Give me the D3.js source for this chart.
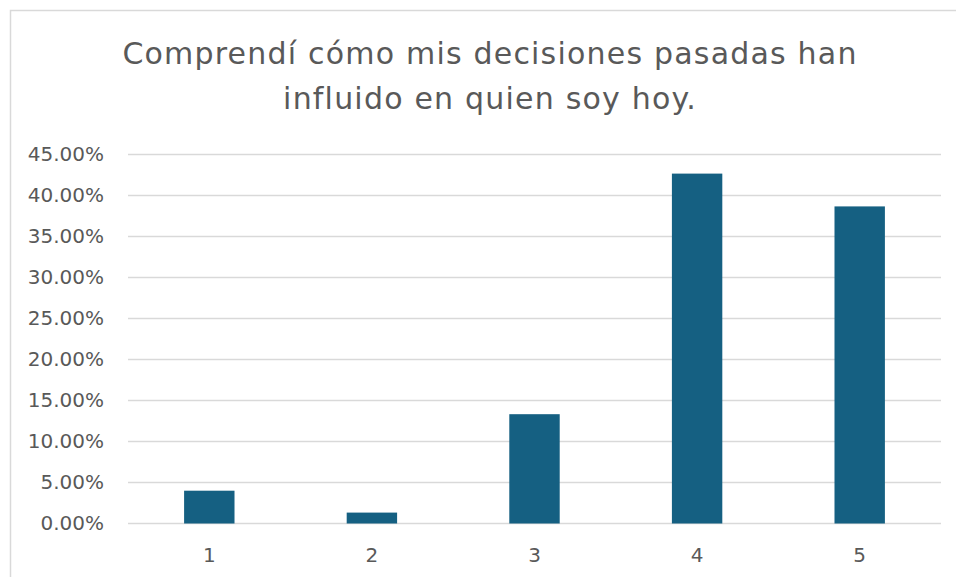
<!DOCTYPE html>
<html>
<head>
<meta charset="utf-8">
<script src="https://cdn.jsdelivr.net/npm/d3@7"></script>
<style>
  html, body { margin: 0; padding: 0; background: #fff; }
  svg { display: block; font-family: "DejaVu Sans", sans-serif; }
</style>
</head>
<body>
<svg id="chart" width="956" height="577"></svg>
<script>
// data (n = 75 answers)
const categories = ["1", "2", "3", "4", "5"];
const values = [0.04, 0.0133, 0.1333, 0.4267, 0.3867];
const yTicks = [0, 0.05, 0.10, 0.15, 0.20, 0.25, 0.30, 0.35, 0.40, 0.45];
const titleLines = ["Comprendí cómo mis decisiones pasadas han", "influido en quien soy hoy."];

const svg = d3.select("#chart");
const textColor = "#595959";
const gridColor = "#d9d9d9";
const barColor = "#156082";

// chart frame (cut off at right and bottom)
svg.append("rect")
    .attr("x", 10.5).attr("y", 10.5)
    .attr("width", 1000).attr("height", 1000)
    .attr("fill", "#fff")
    .attr("stroke", gridColor)
    .attr("stroke-width", 1.5);

const plot = { left: 128, right: 941, top: 154.5, bottom: 523.5 };

const x = d3.scaleBand()
    .domain(categories)
    .range([plot.left, plot.right])
    .paddingInner(0.69)
    .paddingOuter(0.345);

const y = d3.scaleLinear()
    .domain([0, 0.45])
    .range([plot.bottom, plot.top]);

// gridlines
svg.append("g")
    .selectAll("line")
    .data(yTicks)
    .enter().append("line")
    .attr("x1", plot.left)
    .attr("x2", plot.right)
    .attr("y1", d => y(d))
    .attr("y2", d => y(d))
    .attr("stroke", gridColor)
    .attr("stroke-width", 1.5);

// y axis labels
const yAxis = svg.append("g")
    .attr("transform", `translate(${plot.left - 24},0)`)
    .call(d3.axisLeft(y).tickValues(yTicks).tickFormat(d => (d * 100).toFixed(2) + "%").tickSize(0).tickPadding(0));
yAxis.select(".domain").remove();
yAxis.selectAll("text")
    .attr("fill", textColor)
    .attr("font-size", 20)
    .attr("font-family", "DejaVu Sans, sans-serif");

// bars
svg.append("g")
    .selectAll("rect")
    .data(values)
    .enter().append("rect")
    .attr("x", (d, i) => x(categories[i]))
    .attr("width", x.bandwidth())
    .attr("y", d => y(d))
    .attr("height", d => y(0) - y(d))
    .attr("fill", barColor);

// x axis labels
const xAxis = svg.append("g")
    .attr("transform", `translate(0,${plot.bottom + 24})`)
    .call(d3.axisBottom(x).tickSize(0).tickPadding(0));
xAxis.select(".domain").remove();
xAxis.selectAll("text")
    .attr("fill", textColor)
    .attr("font-size", 20)
    .attr("font-family", "DejaVu Sans, sans-serif");

// title
svg.append("text")
    .attr("x", 490)
    .attr("y", 64)
    .attr("text-anchor", "middle")
    .attr("fill", textColor)
    .attr("font-size", 30)
    .attr("letter-spacing", 1.2)
    .selectAll("tspan")
    .data(titleLines)
    .enter().append("tspan")
    .attr("x", 490)
    .attr("dy", (d, i) => i === 0 ? 0 : 45)
    .text(d => d);
</script>
</body>
</html>
